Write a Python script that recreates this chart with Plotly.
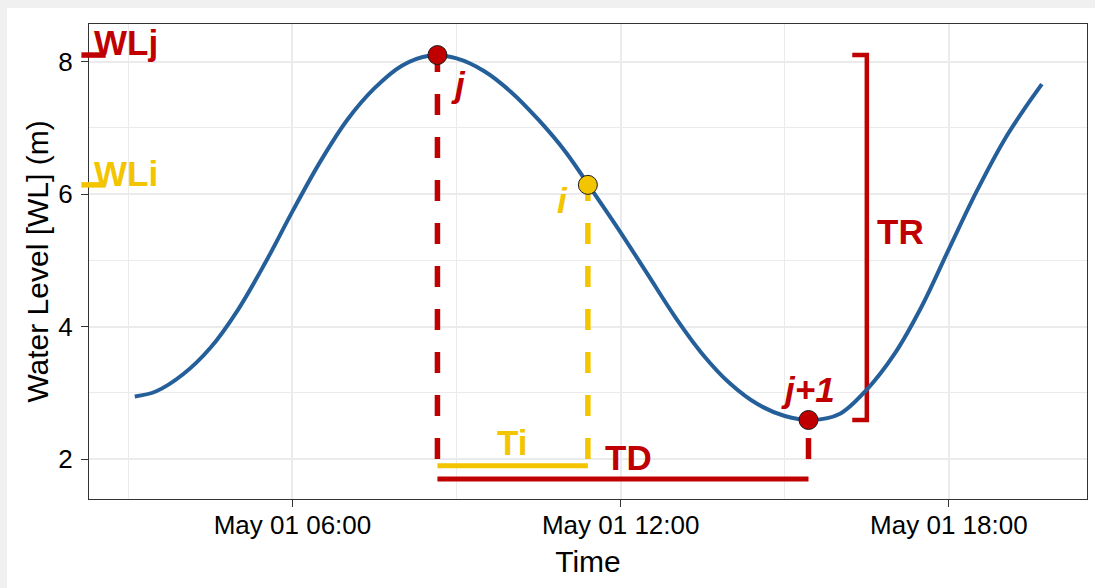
import plotly.graph_objects as go

DAY = "2024-05-01"

# Water level curve
curve_time = ["03:07", "03:30", "04:00", "04:30", "05:00", "05:30", "06:00", "06:30",
              "07:00", "07:30", "08:00", "08:30", "09:00", "09:30", "10:00",
              "10:30", "11:00", "11:30", "12:00", "12:30", "13:00", "13:30", "14:00",
              "14:30", "15:00", "15:30", "16:00", "16:30", "17:00", "17:30", "18:00",
              "18:30", "19:00", "19:21", "19:42"]
curve_wl = [2.945, 3.02, 3.28, 3.68, 4.25, 4.96, 5.74, 6.48,
            7.12, 7.60, 7.94, 8.09, 8.05, 7.86, 7.54,
            7.12, 6.63, 6.03, 5.42, 4.78, 4.14, 3.58, 3.14,
            2.83, 2.65, 2.59, 2.68, 3.05, 3.58, 4.30, 5.17,
            6.03, 6.80, 7.25, 7.66]

# Key points
t_j, wl_j = "08:39", 8.10
t_i, wl_i = "11:24", 6.14
t_j1, wl_j1 = "15:26", 2.59

# Guide levels
base_level = 2.0
ti_level = 1.90
td_level = 1.70
tr_time = "16:30"
tr_tick_time = "16:14"

RED = "#C00000"
YEL = "#F2C500"
BLUE = "#255F99"
FONT = "Liberation Sans, Arial, sans-serif"


def ts(hm):
    return f"{DAY} {hm}"


fig = go.Figure()
dash = "21px,22px"

# dashed verticals (drawn upward from base level)
fig.add_trace(go.Scatter(x=[ts(t_j), ts(t_j)], y=[base_level, wl_j], mode="lines",
                         line=dict(color=RED, width=5.5, dash=dash), hoverinfo="skip"))
fig.add_trace(go.Scatter(x=[ts(t_i), ts(t_i)], y=[base_level, wl_i], mode="lines",
                         line=dict(color=YEL, width=5.5, dash=dash), hoverinfo="skip"))
fig.add_trace(go.Scatter(x=[ts(t_j1), ts(t_j1)], y=[base_level, wl_j1], mode="lines",
                         line=dict(color=RED, width=5.5, dash=dash), hoverinfo="skip"))
# Ti and TD
fig.add_trace(go.Scatter(x=[ts(t_j), ts(t_i)], y=[ti_level, ti_level], mode="lines",
                         line=dict(color=YEL, width=5), hoverinfo="skip"))
fig.add_trace(go.Scatter(x=[ts(t_j), ts(t_j1)], y=[td_level, td_level], mode="lines",
                         line=dict(color=RED, width=5), hoverinfo="skip"))
# TR bracket
fig.add_trace(go.Scatter(x=[ts(tr_tick_time), ts(tr_time), ts(tr_time), ts(tr_tick_time)],
                         y=[wl_j, wl_j, wl_j1, wl_j1], mode="lines",
                         line=dict(color=RED, width=4.5), hoverinfo="skip"))
# curve
fig.add_trace(go.Scatter(x=[ts(t) for t in curve_time], y=curve_wl, mode="lines",
                         line=dict(color=BLUE, width=4, shape="spline", smoothing=1.0),
                         hoverinfo="skip"))
# points
fig.add_trace(go.Scatter(x=[ts(t_j), ts(t_j1)], y=[wl_j, wl_j1], mode="markers",
                         marker=dict(color=RED, size=19, line=dict(color="#1a1a1a", width=1)),
                         hoverinfo="skip"))
fig.add_trace(go.Scatter(x=[ts(t_i)], y=[wl_i], mode="markers",
                         marker=dict(color=YEL, size=19, line=dict(color="#1a1a1a", width=1)),
                         hoverinfo="skip"))

shapes = [
    # white card over gray page
    dict(type="rect", xref="paper", yref="paper", x0=-0.0822, x1=1.02, y0=-0.2, y1=1.0337,
         fillcolor="white", line=dict(width=0), layer="below"),
    # WL level markers on the left edge
    dict(type="line", xref="paper", yref="y", x0=-0.0076, x1=0.0167, y0=wl_j, y1=wl_j,
         line=dict(color=RED, width=5.5)),
    dict(type="line", xref="paper", yref="y", x0=-0.0076, x1=0.0167, y0=wl_i, y1=wl_i,
         line=dict(color=YEL, width=5.5)),
]

big = 35


def ann(text, x, y, color, xref="x", size=big):
    return dict(text=text, x=x, y=y, xref=xref, yref="y", showarrow=False,
                xanchor="center", yanchor="middle",
                font=dict(family=FONT, size=size, color=color))


annotations = [
    ann("<b>WLj</b>", 0.0368, 8.29, RED, xref="paper"),
    ann("<b>WLi</b>", 0.0375, 6.31, YEL, xref="paper"),
    ann("<b><i>j</i></b>", ts("09:02"), 7.66, RED),
    ann("<b><i>i</i></b>", ts("10:56"), 5.91, YEL),
    ann("<b><i>j+1</i></b>", ts("15:25"), 3.05, RED),
    ann("<b>Ti</b>", ts("10:01"), 2.25, YEL),
    ann("<b>TD</b>", ts("12:09"), 2.02, RED),
    ann("<b>TR</b>", ts("17:07"), 5.44, RED),
]

H = 3600 * 1000
fig.update_layout(
    width=1095, height=588,
    margin=dict(l=89, r=8, t=24, b=89),
    paper_bgcolor="#f0f0f0", plot_bgcolor="white",
    showlegend=False,
    font=dict(family=FONT, color="black"),
    shapes=shapes, annotations=annotations,
    xaxis=dict(type="date", range=[ts("02:16:48"), ts("20:31:30")],
               tick0=ts("00:00"), dtick=6 * H, tickformat="%b %d %H:%M",
               ticks="outside", ticklen=7, tickwidth=1.3, tickcolor="#333333",
               showline=True, linecolor="#333333", linewidth=1.3, mirror=True,
               showgrid=True, gridcolor="#ebebeb", gridwidth=2.2, zeroline=False,
               minor=dict(tick0=ts("00:00"), dtick=3 * H, showgrid=True,
                          gridcolor="#ebebeb", gridwidth=1.2, ticks=""),
               ticklabelstandoff=-4,
               tickfont=dict(family=FONT, size=26, color="black"),
               title=dict(text="Time", font=dict(family=FONT, size=30, color="black"),
                          standoff=11)),
    yaxis=dict(range=[1.397, 8.569], tick0=0, dtick=2,
               ticks="outside", ticklen=7, tickwidth=1.3, tickcolor="#333333",
               showline=True, linecolor="#333333", linewidth=1.3, mirror=True,
               showgrid=True, gridcolor="#ebebeb", gridwidth=2.2, zeroline=False,
               minor=dict(tick0=0, dtick=1, showgrid=True,
                          gridcolor="#ebebeb", gridwidth=1.2, ticks=""),
               ticklabelstandoff=3,
               tickfont=dict(family=FONT, size=26, color="black"),
               title=dict(text="Water Level [WL] (m)",
                          font=dict(family=FONT, size=30, color="black"), standoff=0)),
)

fig.write_html(
    "out.html",
    config={"displayModeBar": False},
    post_script="document.body.style.margin='0';document.body.style.overflow='hidden';",
)
